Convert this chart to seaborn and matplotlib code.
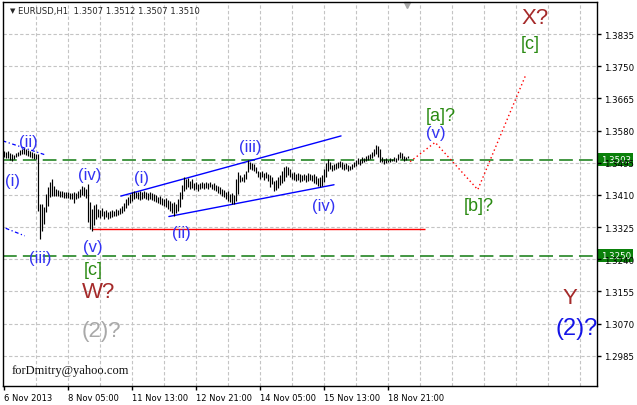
import matplotlib
matplotlib.use("Agg")
import matplotlib.pyplot as plt
import matplotlib.transforms as mtransforms
import seaborn as sns
import pandas as pd

# EURUSD H1, 6-18 Nov 2013
symbol = "EURUSD,H1"
last_ohlc = [1.3507, 1.3512, 1.3507, 1.3510]

bar_high = [
    1.3526, 1.3523, 1.3526, 1.3521, 1.3518, 1.3516, 1.3521, 1.3523, 1.3529, 1.3531,
    1.3534, 1.3531, 1.3529, 1.3526, 1.3523, 1.3521, 1.3518,
    1.3518, 1.3386, 1.3386, 1.3378, 1.3413, 1.3431, 1.3444, 1.3452, 1.3434,
    1.3426, 1.3423, 1.3420, 1.3420, 1.3418, 1.3418, 1.3418, 1.3415,
    1.3415, 1.3418, 1.3415, 1.3420, 1.3426, 1.3434, 1.3431, 1.3426, 1.3439, 1.3391,
    1.3373, 1.3383, 1.3386,
    1.3373, 1.3370, 1.3376, 1.3368, 1.3370, 1.3365, 1.3368, 1.3370, 1.3368, 1.3373,
    1.3370, 1.3376, 1.3381, 1.3389, 1.3399, 1.3405, 1.3413, 1.3418, 1.3420, 1.3418,
    1.3418, 1.3420, 1.3418, 1.3420, 1.3418, 1.3415, 1.3418, 1.3415, 1.3413, 1.3410,
    1.3405, 1.3407, 1.3402, 1.3399, 1.3402, 1.3397, 1.3394, 1.3389, 1.3391, 1.3386,
    1.3399, 1.3418, 1.3436, 1.3457, 1.3452, 1.3455, 1.3447, 1.3452, 1.3442, 1.3444,
    1.3439, 1.3442, 1.3444, 1.3442,
    1.3444, 1.3442, 1.3444, 1.3439, 1.3442, 1.3436, 1.3434, 1.3431, 1.3426, 1.3423,
    1.3418, 1.3420, 1.3413, 1.3415, 1.3410, 1.3452, 1.3471, 1.3463, 1.3457, 1.3465,
    1.3473, 1.3502, 1.3497, 1.3494, 1.3492, 1.3484, 1.3473, 1.3471, 1.3473, 1.3468,
    1.3471, 1.3465, 1.3463, 1.3457,
    1.3447, 1.3450, 1.3457, 1.3463, 1.3473, 1.3484, 1.3486, 1.3484, 1.3479, 1.3468,
    1.3471, 1.3465, 1.3468, 1.3465, 1.3463, 1.3465, 1.3463, 1.3468, 1.3465, 1.3463,
    1.3465, 1.3460, 1.3455, 1.3457, 1.3463, 1.3479, 1.3494, 1.3505, 1.3497, 1.3489,
    1.3492, 1.3494, 1.3497, 1.3500,
    1.3497, 1.3492, 1.3494, 1.3489, 1.3486, 1.3492, 1.3497, 1.3502, 1.3508, 1.3505,
    1.3510, 1.3508, 1.3513, 1.3516, 1.3518, 1.3523, 1.3531, 1.3542, 1.3539, 1.3531,
    1.3510, 1.3505, 1.3508, 1.3502, 1.3508, 1.3505, 1.3510, 1.3508, 1.3518, 1.3523,
    1.3521, 1.3513, 1.3510, 1.3512,
]
bar_low = [
    1.3510, 1.3508, 1.3508, 1.3502, 1.3500, 1.3505, 1.3510, 1.3513, 1.3516, 1.3518,
    1.3518, 1.3516, 1.3513, 1.3510, 1.3508, 1.3505, 1.3505,
    1.3368, 1.3294, 1.3315, 1.3333, 1.3365, 1.3381, 1.3405, 1.3407, 1.3407,
    1.3407, 1.3407, 1.3405, 1.3405, 1.3402, 1.3402, 1.3402, 1.3399,
    1.3399, 1.3389, 1.3399, 1.3402, 1.3405, 1.3410, 1.3407, 1.3402, 1.3338, 1.3320,
    1.3315, 1.3331, 1.3347,
    1.3352, 1.3349, 1.3354, 1.3347, 1.3352, 1.3347, 1.3349, 1.3352, 1.3354, 1.3354,
    1.3357, 1.3360, 1.3362, 1.3368, 1.3376, 1.3383, 1.3389, 1.3394, 1.3399, 1.3402,
    1.3399, 1.3397, 1.3399, 1.3402, 1.3399, 1.3397, 1.3399, 1.3397, 1.3394, 1.3391,
    1.3389, 1.3386, 1.3383, 1.3381, 1.3378, 1.3373, 1.3368, 1.3362, 1.3354, 1.3362,
    1.3368, 1.3378, 1.3399, 1.3420, 1.3426, 1.3431, 1.3426, 1.3428, 1.3423, 1.3426,
    1.3420, 1.3426, 1.3428, 1.3426,
    1.3428, 1.3426, 1.3431, 1.3426, 1.3423, 1.3420, 1.3415, 1.3413, 1.3407, 1.3405,
    1.3399, 1.3394, 1.3391, 1.3386, 1.3386, 1.3394, 1.3413, 1.3444, 1.3447, 1.3444,
    1.3452, 1.3471, 1.3479, 1.3476, 1.3473, 1.3468, 1.3457, 1.3452, 1.3457, 1.3450,
    1.3455, 1.3447, 1.3431, 1.3439,
    1.3420, 1.3423, 1.3428, 1.3436, 1.3442, 1.3447, 1.3457, 1.3463, 1.3457, 1.3452,
    1.3450, 1.3447, 1.3450, 1.3444, 1.3447, 1.3450, 1.3444, 1.3447, 1.3450, 1.3447,
    1.3442, 1.3439, 1.3434, 1.3431, 1.3434, 1.3444, 1.3457, 1.3473, 1.3479, 1.3473,
    1.3476, 1.3479, 1.3481, 1.3484,
    1.3479, 1.3476, 1.3479, 1.3473, 1.3476, 1.3479, 1.3484, 1.3486, 1.3492, 1.3489,
    1.3494, 1.3497, 1.3500, 1.3502, 1.3505, 1.3508, 1.3513, 1.3518, 1.3510, 1.3497,
    1.3497, 1.3492, 1.3494, 1.3497, 1.3497, 1.3500, 1.3500, 1.3497, 1.3502, 1.3508,
    1.3505, 1.3500, 1.3502, 1.3507,
]
assert len(bar_high) == len(bar_low)

date_ticks = [0, 32, 64, 96, 128, 160, 192]
date_labels = ["6 Nov 2013", "8 Nov 05:00", "11 Nov 13:00", "12 Nov 21:00",
               "14 Nov 05:00", "15 Nov 13:00", "18 Nov 21:00"]
price_ticks = [1.3835, 1.3750, 1.3665, 1.3580, 1.3495, 1.3410,
               1.3325, 1.3240, 1.3155, 1.3070, 1.2985]

level_prices = [1.3503, 1.3250]
support_price = 1.3320
support_from, support_to = 44, 210.5

upper_x, upper_y = [58.5, 168.5], [1.3407, 1.3566]
lower_x, lower_y = [82.5, 165.0], [1.3353, 1.3437]
small_up_x, small_up_y = [-0.5, 21.3], [1.3553, 1.3515]
small_dn_x, small_dn_y = [1.0, 10.5], [1.3322, 1.3302]
path_x = [203, 215.5, 236.8, 261]
path_y = [1.3498, 1.3549, 1.3424, 1.3730]

# wave marks: text, bar, price, colour, size
BLUE, GREEN, BROWN, GREY = "#3232f2", "#2a8a12", "#a52a2a", "#a9a9a9"
waves = [
    ("(i)", 4.5, 1.3447, BLUE, 12), ("(ii)", 12.5, 1.3552, BLUE, 12),
    ("(iii)", 18.5, 1.3246, BLUE, 12), ("(iv)", 43, 1.3463, BLUE, 12),
    ("(v)", 44.5, 1.3275, BLUE, 12), ("[c]", 44.5, 1.3212, GREEN, 13),
    ("W?", 47.5, 1.3154, BROWN, 16), ("(2)?", 49, 1.3051, GREY, 16),
    ("(i)", 69, 1.3457, BLUE, 12), ("(ii)", 88.5, 1.3312, BLUE, 12),
    ("(iii)", 123, 1.3539, BLUE, 12), ("(iv)", 160, 1.3381, BLUE, 12),
    ("[a]?", 218.5, 1.3621, GREEN, 13), ("(v)", 216, 1.3574, BLUE, 12),
    ("[b]?", 237.5, 1.3381, GREEN, 13), ("X?", 265.5, 1.3878, BROWN, 16),
    ("[c]", 263, 1.3811, GREEN, 13), ("Y", 283, 1.3138, BROWN, 16),
    ("(2)?", 286, 1.3058, "#1414e6", 17),
]

sns.set_style("white")
plt.rcParams['font.family'] = ['DejaVu Sans']

fig = plt.figure(figsize=(6.37, 4.06), dpi=100)
ax = fig.add_axes([3 / 637, 18.7 / 406, 594 / 637, 384 / 406])
ax.set_xlim(-0.35, 296.35)
ax.set_ylim(1.29045, 1.39190)

grid_kw = dict(color="#c4c4c4", lw=0.8, ls=(0, (3, 2)), zorder=0)
for p in price_ticks:
    ax.axhline(p, **grid_kw)
for gx in range(16, 296, 16):
    ax.axvline(gx, **grid_kw)

for p in level_prices:
    ax.axhline(p, color="#117a11", lw=1.1, ls=(0, (9, 4)), zorder=1)

bars = pd.DataFrame({"bar": range(len(bar_high)), "high": bar_high, "low": bar_low})
ax.vlines(bars["bar"], bars["low"], bars["high"], color="black", lw=0.85, zorder=3)

ax.hlines(support_price, support_from, support_to, color="red", lw=1, zorder=2)
sns.lineplot(x=upper_x, y=upper_y, ax=ax, color="blue", lw=1, zorder=2)
sns.lineplot(x=lower_x, y=lower_y, ax=ax, color="blue", lw=1, zorder=2)
for xs, ys in [(small_up_x, small_up_y), (small_dn_x, small_dn_y)]:
    ax.plot(xs, ys, color="blue", lw=0.9, ls=(0, (3, 2, 1, 2)), zorder=2)
ax.plot(path_x, path_y, color="red", lw=1, ls=(0, (1, 2)), zorder=2)

for txt, bx, py, col, size in waves:
    ax.text(bx, py, txt, color=col, fontsize=size, ha="center", va="center",
            family="Liberation Sans", zorder=4)

ax.text(4, 1.2947, "forDmitry@yahoo.com", family="Liberation Serif",
        fontsize=9, color="#111111", ha="left", va="center")

ax.text(0.012, 0.979, "\u25bc", transform=ax.transAxes, fontsize=5, va="center")
ax.text(0.025, 0.979, symbol + "  " + " ".join(f"{v:.4f}" for v in last_ohlc),
        transform=ax.transAxes, fontsize=6.1, va="center", ha="left")
ax.plot([201.5], [1.3912], marker="v", ms=5, color="#a8a8a8", clip_on=False)

ax.yaxis.tick_right()
ax.set_yticks(price_ticks)
ax.set_yticklabels([f"{p:.4f}" for p in price_ticks])
ax.set_xticks(date_ticks)
ax.set_xticklabels(date_labels, ha="left")
ax.tick_params(axis="y", which="both", right=True, left=False, length=3, width=1,
               pad=2, labelsize=6.2, colors="black", direction="out")
ax.tick_params(axis="x", bottom=True, length=3, width=1, pad=1.5,
               labelsize=6.0, colors="black", direction="out")
for s in ax.spines.values():
    s.set_color("black")
    s.set_linewidth(1)
ax.set_xlabel("")
ax.set_ylabel("")

blend = mtransforms.blended_transform_factory(ax.transAxes, ax.transData)
for p in level_prices:
    ax.text(1.006, p, f"{p:.4f}", transform=blend, fontsize=6.2, color="white",
            ha="left", va="center", clip_on=False, zorder=0.2,
            bbox=dict(boxstyle="square,pad=0.25", fc="#0a800a", ec="none"))

fig.savefig("out.png", dpi=100, facecolor="white")
